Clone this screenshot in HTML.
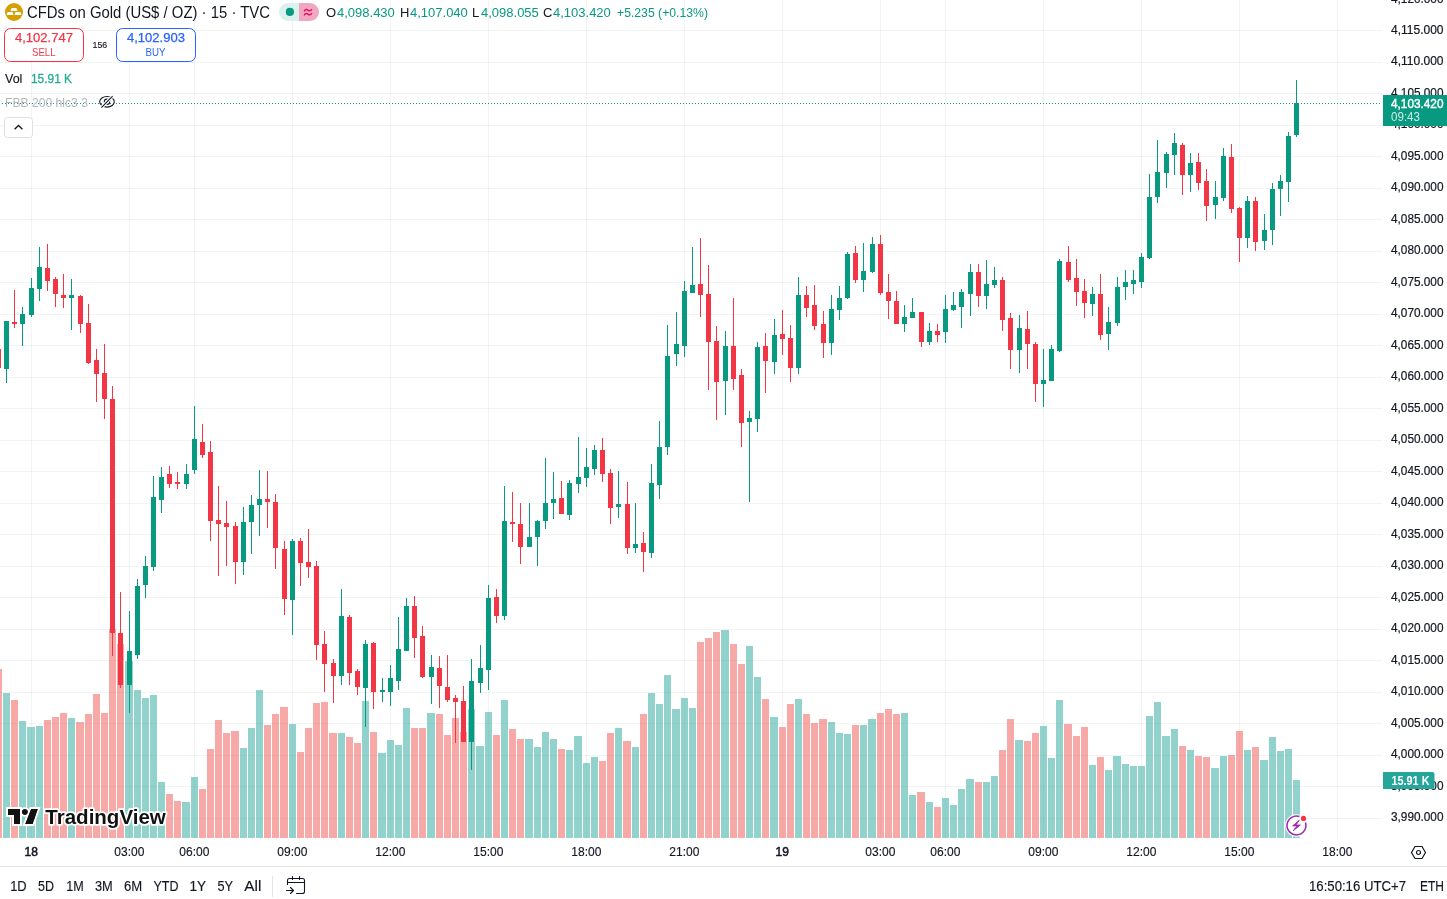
<!DOCTYPE html>
<html><head><meta charset="utf-8">
<style>
html,body{margin:0;padding:0;width:1447px;height:899px;overflow:hidden;background:#fff;}
body{position:relative;font-family:"Liberation Sans",sans-serif;color:#131722;}
svg{position:absolute;left:0;top:0;will-change:transform;}
text{font-family:"Liberation Sans",sans-serif;}
</style></head><body>
<svg width="1447" height="899" viewBox="0 0 1447 899">
<g shape-rendering="crispEdges">
<rect x="0" y="30" width="1382" height="1" fill="rgba(42,46,57,0.06)"/>
<rect x="0" y="62" width="1382" height="1" fill="rgba(42,46,57,0.06)"/>
<rect x="0" y="93" width="1382" height="1" fill="rgba(42,46,57,0.06)"/>
<rect x="0" y="125" width="1382" height="1" fill="rgba(42,46,57,0.06)"/>
<rect x="0" y="156" width="1382" height="1" fill="rgba(42,46,57,0.06)"/>
<rect x="0" y="188" width="1382" height="1" fill="rgba(42,46,57,0.06)"/>
<rect x="0" y="219" width="1382" height="1" fill="rgba(42,46,57,0.06)"/>
<rect x="0" y="251" width="1382" height="1" fill="rgba(42,46,57,0.06)"/>
<rect x="0" y="282" width="1382" height="1" fill="rgba(42,46,57,0.06)"/>
<rect x="0" y="314" width="1382" height="1" fill="rgba(42,46,57,0.06)"/>
<rect x="0" y="345" width="1382" height="1" fill="rgba(42,46,57,0.06)"/>
<rect x="0" y="377" width="1382" height="1" fill="rgba(42,46,57,0.06)"/>
<rect x="0" y="408" width="1382" height="1" fill="rgba(42,46,57,0.06)"/>
<rect x="0" y="440" width="1382" height="1" fill="rgba(42,46,57,0.06)"/>
<rect x="0" y="471" width="1382" height="1" fill="rgba(42,46,57,0.06)"/>
<rect x="0" y="503" width="1382" height="1" fill="rgba(42,46,57,0.06)"/>
<rect x="0" y="534" width="1382" height="1" fill="rgba(42,46,57,0.06)"/>
<rect x="0" y="566" width="1382" height="1" fill="rgba(42,46,57,0.06)"/>
<rect x="0" y="597" width="1382" height="1" fill="rgba(42,46,57,0.06)"/>
<rect x="0" y="629" width="1382" height="1" fill="rgba(42,46,57,0.06)"/>
<rect x="0" y="660" width="1382" height="1" fill="rgba(42,46,57,0.06)"/>
<rect x="0" y="692" width="1382" height="1" fill="rgba(42,46,57,0.06)"/>
<rect x="0" y="723" width="1382" height="1" fill="rgba(42,46,57,0.06)"/>
<rect x="0" y="755" width="1382" height="1" fill="rgba(42,46,57,0.06)"/>
<rect x="0" y="786" width="1382" height="1" fill="rgba(42,46,57,0.06)"/>
<rect x="0" y="818" width="1382" height="1" fill="rgba(42,46,57,0.06)"/>
<rect x="31" y="0" width="1" height="838" fill="rgba(42,46,57,0.06)"/>
<rect x="129" y="0" width="1" height="838" fill="rgba(42,46,57,0.06)"/>
<rect x="194" y="0" width="1" height="838" fill="rgba(42,46,57,0.06)"/>
<rect x="292" y="0" width="1" height="838" fill="rgba(42,46,57,0.06)"/>
<rect x="390" y="0" width="1" height="838" fill="rgba(42,46,57,0.06)"/>
<rect x="488" y="0" width="1" height="838" fill="rgba(42,46,57,0.06)"/>
<rect x="586" y="0" width="1" height="838" fill="rgba(42,46,57,0.06)"/>
<rect x="684" y="0" width="1" height="838" fill="rgba(42,46,57,0.06)"/>
<rect x="782" y="0" width="1" height="838" fill="rgba(42,46,57,0.06)"/>
<rect x="880" y="0" width="1" height="838" fill="rgba(42,46,57,0.06)"/>
<rect x="945" y="0" width="1" height="838" fill="rgba(42,46,57,0.06)"/>
<rect x="1043" y="0" width="1" height="838" fill="rgba(42,46,57,0.06)"/>
<rect x="1141" y="0" width="1" height="838" fill="rgba(42,46,57,0.06)"/>
<rect x="1239" y="0" width="1" height="838" fill="rgba(42,46,57,0.06)"/>
<rect x="1337" y="0" width="1" height="838" fill="rgba(42,46,57,0.06)"/>
<rect x="-5" y="669" width="7" height="169" fill="rgba(239,83,80,0.5)"/>
<rect x="3" y="693" width="7" height="145" fill="rgba(38,166,154,0.5)"/>
<rect x="11" y="700" width="7" height="138" fill="rgba(239,83,80,0.5)"/>
<rect x="19" y="721" width="7" height="117" fill="rgba(38,166,154,0.5)"/>
<rect x="27" y="727" width="8" height="111" fill="rgba(38,166,154,0.5)"/>
<rect x="36" y="726" width="7" height="112" fill="rgba(38,166,154,0.5)"/>
<rect x="44" y="720" width="7" height="118" fill="rgba(239,83,80,0.5)"/>
<rect x="52" y="717" width="7" height="121" fill="rgba(239,83,80,0.5)"/>
<rect x="60" y="713" width="7" height="125" fill="rgba(239,83,80,0.5)"/>
<rect x="68" y="718" width="7" height="120" fill="rgba(38,166,154,0.5)"/>
<rect x="76" y="722" width="8" height="116" fill="rgba(239,83,80,0.5)"/>
<rect x="85" y="714" width="7" height="124" fill="rgba(239,83,80,0.5)"/>
<rect x="93" y="694" width="7" height="144" fill="rgba(239,83,80,0.5)"/>
<rect x="101" y="713" width="7" height="125" fill="rgba(239,83,80,0.5)"/>
<rect x="109" y="629" width="7" height="209" fill="rgba(239,83,80,0.5)"/>
<rect x="117" y="644" width="7" height="194" fill="rgba(239,83,80,0.5)"/>
<rect x="125" y="661" width="8" height="177" fill="rgba(38,166,154,0.5)"/>
<rect x="134" y="690" width="7" height="148" fill="rgba(38,166,154,0.5)"/>
<rect x="142" y="698" width="7" height="140" fill="rgba(38,166,154,0.5)"/>
<rect x="150" y="695" width="7" height="143" fill="rgba(38,166,154,0.5)"/>
<rect x="158" y="782" width="7" height="56" fill="rgba(38,166,154,0.5)"/>
<rect x="166" y="794" width="7" height="44" fill="rgba(239,83,80,0.5)"/>
<rect x="174" y="801" width="7" height="37" fill="rgba(239,83,80,0.5)"/>
<rect x="182" y="802" width="8" height="36" fill="rgba(38,166,154,0.5)"/>
<rect x="191" y="777" width="7" height="61" fill="rgba(38,166,154,0.5)"/>
<rect x="199" y="789" width="7" height="49" fill="rgba(239,83,80,0.5)"/>
<rect x="207" y="749" width="7" height="89" fill="rgba(239,83,80,0.5)"/>
<rect x="215" y="720" width="7" height="118" fill="rgba(239,83,80,0.5)"/>
<rect x="223" y="733" width="7" height="105" fill="rgba(239,83,80,0.5)"/>
<rect x="231" y="731" width="8" height="107" fill="rgba(239,83,80,0.5)"/>
<rect x="240" y="748" width="7" height="90" fill="rgba(38,166,154,0.5)"/>
<rect x="248" y="728" width="7" height="110" fill="rgba(38,166,154,0.5)"/>
<rect x="256" y="690" width="7" height="148" fill="rgba(38,166,154,0.5)"/>
<rect x="264" y="725" width="7" height="113" fill="rgba(239,83,80,0.5)"/>
<rect x="272" y="714" width="7" height="124" fill="rgba(239,83,80,0.5)"/>
<rect x="280" y="707" width="8" height="131" fill="rgba(239,83,80,0.5)"/>
<rect x="289" y="724" width="7" height="114" fill="rgba(38,166,154,0.5)"/>
<rect x="297" y="752" width="7" height="86" fill="rgba(239,83,80,0.5)"/>
<rect x="305" y="728" width="7" height="110" fill="rgba(239,83,80,0.5)"/>
<rect x="313" y="703" width="7" height="135" fill="rgba(239,83,80,0.5)"/>
<rect x="321" y="702" width="7" height="136" fill="rgba(239,83,80,0.5)"/>
<rect x="329" y="733" width="8" height="105" fill="rgba(239,83,80,0.5)"/>
<rect x="338" y="733" width="7" height="105" fill="rgba(38,166,154,0.5)"/>
<rect x="346" y="737" width="7" height="101" fill="rgba(239,83,80,0.5)"/>
<rect x="354" y="743" width="7" height="95" fill="rgba(239,83,80,0.5)"/>
<rect x="362" y="701" width="7" height="137" fill="rgba(38,166,154,0.5)"/>
<rect x="370" y="732" width="7" height="106" fill="rgba(239,83,80,0.5)"/>
<rect x="378" y="753" width="8" height="85" fill="rgba(38,166,154,0.5)"/>
<rect x="387" y="740" width="7" height="98" fill="rgba(38,166,154,0.5)"/>
<rect x="395" y="745" width="7" height="93" fill="rgba(38,166,154,0.5)"/>
<rect x="403" y="708" width="7" height="130" fill="rgba(38,166,154,0.5)"/>
<rect x="411" y="728" width="7" height="110" fill="rgba(239,83,80,0.5)"/>
<rect x="419" y="728" width="7" height="110" fill="rgba(239,83,80,0.5)"/>
<rect x="427" y="713" width="8" height="125" fill="rgba(38,166,154,0.5)"/>
<rect x="436" y="714" width="7" height="124" fill="rgba(239,83,80,0.5)"/>
<rect x="444" y="735" width="7" height="103" fill="rgba(239,83,80,0.5)"/>
<rect x="452" y="718" width="7" height="120" fill="rgba(239,83,80,0.5)"/>
<rect x="460" y="732" width="7" height="106" fill="rgba(239,83,80,0.5)"/>
<rect x="468" y="709" width="7" height="129" fill="rgba(38,166,154,0.5)"/>
<rect x="476" y="746" width="8" height="92" fill="rgba(38,166,154,0.5)"/>
<rect x="485" y="712" width="7" height="126" fill="rgba(38,166,154,0.5)"/>
<rect x="493" y="735" width="7" height="103" fill="rgba(239,83,80,0.5)"/>
<rect x="501" y="700" width="7" height="138" fill="rgba(38,166,154,0.5)"/>
<rect x="509" y="729" width="7" height="109" fill="rgba(239,83,80,0.5)"/>
<rect x="517" y="739" width="7" height="99" fill="rgba(239,83,80,0.5)"/>
<rect x="525" y="739" width="8" height="99" fill="rgba(38,166,154,0.5)"/>
<rect x="534" y="747" width="7" height="91" fill="rgba(38,166,154,0.5)"/>
<rect x="542" y="732" width="7" height="106" fill="rgba(38,166,154,0.5)"/>
<rect x="550" y="739" width="7" height="99" fill="rgba(38,166,154,0.5)"/>
<rect x="558" y="749" width="7" height="89" fill="rgba(239,83,80,0.5)"/>
<rect x="566" y="750" width="7" height="88" fill="rgba(38,166,154,0.5)"/>
<rect x="574" y="736" width="8" height="102" fill="rgba(38,166,154,0.5)"/>
<rect x="583" y="763" width="7" height="75" fill="rgba(38,166,154,0.5)"/>
<rect x="591" y="757" width="7" height="81" fill="rgba(38,166,154,0.5)"/>
<rect x="599" y="761" width="7" height="77" fill="rgba(239,83,80,0.5)"/>
<rect x="607" y="733" width="7" height="105" fill="rgba(239,83,80,0.5)"/>
<rect x="615" y="728" width="7" height="110" fill="rgba(38,166,154,0.5)"/>
<rect x="623" y="741" width="8" height="97" fill="rgba(239,83,80,0.5)"/>
<rect x="632" y="747" width="7" height="91" fill="rgba(38,166,154,0.5)"/>
<rect x="640" y="714" width="7" height="124" fill="rgba(239,83,80,0.5)"/>
<rect x="648" y="693" width="7" height="145" fill="rgba(38,166,154,0.5)"/>
<rect x="656" y="704" width="7" height="134" fill="rgba(38,166,154,0.5)"/>
<rect x="664" y="675" width="7" height="163" fill="rgba(38,166,154,0.5)"/>
<rect x="672" y="709" width="8" height="129" fill="rgba(38,166,154,0.5)"/>
<rect x="681" y="698" width="7" height="140" fill="rgba(38,166,154,0.5)"/>
<rect x="689" y="708" width="7" height="130" fill="rgba(38,166,154,0.5)"/>
<rect x="697" y="642" width="7" height="196" fill="rgba(239,83,80,0.5)"/>
<rect x="705" y="638" width="7" height="200" fill="rgba(239,83,80,0.5)"/>
<rect x="713" y="632" width="7" height="206" fill="rgba(239,83,80,0.5)"/>
<rect x="721" y="630" width="8" height="208" fill="rgba(38,166,154,0.5)"/>
<rect x="730" y="644" width="7" height="194" fill="rgba(239,83,80,0.5)"/>
<rect x="738" y="664" width="7" height="174" fill="rgba(239,83,80,0.5)"/>
<rect x="746" y="646" width="7" height="192" fill="rgba(38,166,154,0.5)"/>
<rect x="754" y="677" width="7" height="161" fill="rgba(38,166,154,0.5)"/>
<rect x="762" y="699" width="7" height="139" fill="rgba(239,83,80,0.5)"/>
<rect x="770" y="717" width="8" height="121" fill="rgba(38,166,154,0.5)"/>
<rect x="779" y="727" width="7" height="111" fill="rgba(239,83,80,0.5)"/>
<rect x="787" y="704" width="7" height="134" fill="rgba(239,83,80,0.5)"/>
<rect x="795" y="699" width="7" height="139" fill="rgba(38,166,154,0.5)"/>
<rect x="803" y="714" width="7" height="124" fill="rgba(239,83,80,0.5)"/>
<rect x="811" y="723" width="7" height="115" fill="rgba(239,83,80,0.5)"/>
<rect x="819" y="719" width="8" height="119" fill="rgba(239,83,80,0.5)"/>
<rect x="828" y="722" width="7" height="116" fill="rgba(38,166,154,0.5)"/>
<rect x="836" y="733" width="7" height="105" fill="rgba(38,166,154,0.5)"/>
<rect x="844" y="734" width="7" height="104" fill="rgba(38,166,154,0.5)"/>
<rect x="852" y="725" width="7" height="113" fill="rgba(239,83,80,0.5)"/>
<rect x="860" y="725" width="7" height="113" fill="rgba(38,166,154,0.5)"/>
<rect x="868" y="719" width="8" height="119" fill="rgba(38,166,154,0.5)"/>
<rect x="877" y="713" width="7" height="125" fill="rgba(239,83,80,0.5)"/>
<rect x="885" y="709" width="7" height="129" fill="rgba(239,83,80,0.5)"/>
<rect x="893" y="714" width="7" height="124" fill="rgba(239,83,80,0.5)"/>
<rect x="901" y="713" width="7" height="125" fill="rgba(38,166,154,0.5)"/>
<rect x="909" y="795" width="7" height="43" fill="rgba(38,166,154,0.5)"/>
<rect x="917" y="792" width="8" height="46" fill="rgba(239,83,80,0.5)"/>
<rect x="926" y="802" width="7" height="36" fill="rgba(38,166,154,0.5)"/>
<rect x="934" y="807" width="7" height="31" fill="rgba(239,83,80,0.5)"/>
<rect x="942" y="798" width="7" height="40" fill="rgba(38,166,154,0.5)"/>
<rect x="950" y="805" width="7" height="33" fill="rgba(38,166,154,0.5)"/>
<rect x="958" y="789" width="7" height="49" fill="rgba(38,166,154,0.5)"/>
<rect x="966" y="779" width="8" height="59" fill="rgba(38,166,154,0.5)"/>
<rect x="975" y="782" width="7" height="56" fill="rgba(239,83,80,0.5)"/>
<rect x="983" y="782" width="7" height="56" fill="rgba(38,166,154,0.5)"/>
<rect x="991" y="776" width="7" height="62" fill="rgba(38,166,154,0.5)"/>
<rect x="999" y="750" width="7" height="88" fill="rgba(239,83,80,0.5)"/>
<rect x="1007" y="719" width="7" height="119" fill="rgba(239,83,80,0.5)"/>
<rect x="1015" y="740" width="8" height="98" fill="rgba(38,166,154,0.5)"/>
<rect x="1024" y="741" width="7" height="97" fill="rgba(239,83,80,0.5)"/>
<rect x="1032" y="733" width="7" height="105" fill="rgba(239,83,80,0.5)"/>
<rect x="1040" y="726" width="7" height="112" fill="rgba(38,166,154,0.5)"/>
<rect x="1048" y="758" width="7" height="80" fill="rgba(38,166,154,0.5)"/>
<rect x="1056" y="700" width="7" height="138" fill="rgba(38,166,154,0.5)"/>
<rect x="1064" y="724" width="8" height="114" fill="rgba(239,83,80,0.5)"/>
<rect x="1073" y="736" width="7" height="102" fill="rgba(239,83,80,0.5)"/>
<rect x="1081" y="727" width="7" height="111" fill="rgba(239,83,80,0.5)"/>
<rect x="1089" y="765" width="7" height="73" fill="rgba(38,166,154,0.5)"/>
<rect x="1097" y="757" width="7" height="81" fill="rgba(239,83,80,0.5)"/>
<rect x="1105" y="770" width="7" height="68" fill="rgba(38,166,154,0.5)"/>
<rect x="1113" y="756" width="8" height="82" fill="rgba(38,166,154,0.5)"/>
<rect x="1122" y="764" width="7" height="74" fill="rgba(38,166,154,0.5)"/>
<rect x="1130" y="766" width="7" height="72" fill="rgba(38,166,154,0.5)"/>
<rect x="1138" y="766" width="7" height="72" fill="rgba(38,166,154,0.5)"/>
<rect x="1146" y="716" width="7" height="122" fill="rgba(38,166,154,0.5)"/>
<rect x="1154" y="702" width="7" height="136" fill="rgba(38,166,154,0.5)"/>
<rect x="1162" y="736" width="8" height="102" fill="rgba(38,166,154,0.5)"/>
<rect x="1171" y="729" width="7" height="109" fill="rgba(38,166,154,0.5)"/>
<rect x="1179" y="746" width="7" height="92" fill="rgba(239,83,80,0.5)"/>
<rect x="1187" y="750" width="7" height="88" fill="rgba(38,166,154,0.5)"/>
<rect x="1195" y="756" width="7" height="82" fill="rgba(239,83,80,0.5)"/>
<rect x="1203" y="757" width="7" height="81" fill="rgba(239,83,80,0.5)"/>
<rect x="1211" y="768" width="8" height="70" fill="rgba(38,166,154,0.5)"/>
<rect x="1220" y="756" width="7" height="82" fill="rgba(38,166,154,0.5)"/>
<rect x="1228" y="755" width="7" height="83" fill="rgba(239,83,80,0.5)"/>
<rect x="1236" y="731" width="7" height="107" fill="rgba(239,83,80,0.5)"/>
<rect x="1244" y="750" width="7" height="88" fill="rgba(38,166,154,0.5)"/>
<rect x="1252" y="747" width="7" height="91" fill="rgba(239,83,80,0.5)"/>
<rect x="1260" y="760" width="8" height="78" fill="rgba(38,166,154,0.5)"/>
<rect x="1269" y="737" width="7" height="101" fill="rgba(38,166,154,0.5)"/>
<rect x="1277" y="751" width="7" height="87" fill="rgba(38,166,154,0.5)"/>
<rect x="1285" y="749" width="7" height="89" fill="rgba(38,166,154,0.5)"/>
<rect x="1293" y="780" width="7" height="58" fill="rgba(38,166,154,0.5)"/>
<rect x="-2" y="349" width="1" height="19" fill="#f23645"/><rect x="-4" y="349" width="5" height="19" fill="#f23645"/>
<rect x="6" y="321" width="1" height="62" fill="#089981"/><rect x="4" y="321" width="5" height="48" fill="#089981"/>
<rect x="14" y="290" width="1" height="38" fill="#f23645"/><rect x="12" y="322" width="5" height="2" fill="#f23645"/>
<rect x="22" y="307" width="1" height="39" fill="#089981"/><rect x="20" y="314" width="5" height="10" fill="#089981"/>
<rect x="31" y="278" width="1" height="39" fill="#089981"/><rect x="29" y="288" width="5" height="27" fill="#089981"/>
<rect x="39" y="247" width="1" height="54" fill="#089981"/><rect x="37" y="267" width="5" height="22" fill="#089981"/>
<rect x="47" y="244" width="1" height="47" fill="#f23645"/><rect x="45" y="268" width="5" height="13" fill="#f23645"/>
<rect x="55" y="277" width="1" height="30" fill="#f23645"/><rect x="53" y="279" width="5" height="15" fill="#f23645"/>
<rect x="63" y="274" width="1" height="34" fill="#f23645"/><rect x="61" y="295" width="5" height="3" fill="#f23645"/>
<rect x="71" y="279" width="1" height="51" fill="#089981"/><rect x="69" y="295" width="5" height="3" fill="#089981"/>
<rect x="80" y="295" width="1" height="38" fill="#f23645"/><rect x="78" y="296" width="5" height="28" fill="#f23645"/>
<rect x="88" y="304" width="1" height="60" fill="#f23645"/><rect x="86" y="323" width="5" height="40" fill="#f23645"/>
<rect x="96" y="349" width="1" height="53" fill="#f23645"/><rect x="94" y="360" width="5" height="14" fill="#f23645"/>
<rect x="104" y="344" width="1" height="75" fill="#f23645"/><rect x="102" y="373" width="5" height="26" fill="#f23645"/>
<rect x="112" y="386" width="1" height="270" fill="#f23645"/><rect x="110" y="399" width="5" height="234" fill="#f23645"/>
<rect x="120" y="592" width="1" height="96" fill="#f23645"/><rect x="118" y="633" width="5" height="52" fill="#f23645"/>
<rect x="129" y="611" width="1" height="102" fill="#089981"/><rect x="127" y="651" width="5" height="34" fill="#089981"/>
<rect x="137" y="579" width="1" height="80" fill="#089981"/><rect x="135" y="586" width="5" height="69" fill="#089981"/>
<rect x="145" y="556" width="1" height="42" fill="#089981"/><rect x="143" y="566" width="5" height="19" fill="#089981"/>
<rect x="153" y="476" width="1" height="95" fill="#089981"/><rect x="151" y="497" width="5" height="70" fill="#089981"/>
<rect x="161" y="467" width="1" height="46" fill="#089981"/><rect x="159" y="477" width="5" height="23" fill="#089981"/>
<rect x="169" y="466" width="1" height="22" fill="#f23645"/><rect x="167" y="474" width="5" height="10" fill="#f23645"/>
<rect x="177" y="472" width="1" height="17" fill="#f23645"/><rect x="175" y="482" width="5" height="2" fill="#f23645"/>
<rect x="186" y="464" width="1" height="25" fill="#089981"/><rect x="184" y="474" width="5" height="10" fill="#089981"/>
<rect x="194" y="406" width="1" height="68" fill="#089981"/><rect x="192" y="439" width="5" height="31" fill="#089981"/>
<rect x="202" y="424" width="1" height="34" fill="#f23645"/><rect x="200" y="442" width="5" height="13" fill="#f23645"/>
<rect x="210" y="441" width="1" height="100" fill="#f23645"/><rect x="208" y="452" width="5" height="69" fill="#f23645"/>
<rect x="218" y="486" width="1" height="90" fill="#f23645"/><rect x="216" y="520" width="5" height="4" fill="#f23645"/>
<rect x="226" y="501" width="1" height="65" fill="#f23645"/><rect x="224" y="523" width="5" height="4" fill="#f23645"/>
<rect x="235" y="522" width="1" height="62" fill="#f23645"/><rect x="233" y="526" width="5" height="36" fill="#f23645"/>
<rect x="243" y="507" width="1" height="68" fill="#089981"/><rect x="241" y="522" width="5" height="40" fill="#089981"/>
<rect x="251" y="495" width="1" height="59" fill="#089981"/><rect x="249" y="505" width="5" height="17" fill="#089981"/>
<rect x="259" y="470" width="1" height="66" fill="#089981"/><rect x="257" y="499" width="5" height="6" fill="#089981"/>
<rect x="267" y="471" width="1" height="57" fill="#f23645"/><rect x="265" y="499" width="5" height="3" fill="#f23645"/>
<rect x="275" y="494" width="1" height="75" fill="#f23645"/><rect x="273" y="502" width="5" height="46" fill="#f23645"/>
<rect x="284" y="541" width="1" height="74" fill="#f23645"/><rect x="282" y="549" width="5" height="50" fill="#f23645"/>
<rect x="292" y="539" width="1" height="96" fill="#089981"/><rect x="290" y="541" width="5" height="59" fill="#089981"/>
<rect x="300" y="538" width="1" height="48" fill="#f23645"/><rect x="298" y="541" width="5" height="22" fill="#f23645"/>
<rect x="308" y="529" width="1" height="49" fill="#f23645"/><rect x="306" y="562" width="5" height="5" fill="#f23645"/>
<rect x="316" y="561" width="1" height="99" fill="#f23645"/><rect x="314" y="566" width="5" height="79" fill="#f23645"/>
<rect x="324" y="631" width="1" height="61" fill="#f23645"/><rect x="322" y="644" width="5" height="20" fill="#f23645"/>
<rect x="333" y="659" width="1" height="44" fill="#f23645"/><rect x="331" y="663" width="5" height="13" fill="#f23645"/>
<rect x="341" y="589" width="1" height="96" fill="#089981"/><rect x="339" y="616" width="5" height="60" fill="#089981"/>
<rect x="349" y="615" width="1" height="70" fill="#f23645"/><rect x="347" y="617" width="5" height="56" fill="#f23645"/>
<rect x="357" y="669" width="1" height="26" fill="#f23645"/><rect x="355" y="671" width="5" height="16" fill="#f23645"/>
<rect x="365" y="640" width="1" height="87" fill="#089981"/><rect x="363" y="644" width="5" height="44" fill="#089981"/>
<rect x="373" y="642" width="1" height="67" fill="#f23645"/><rect x="371" y="643" width="5" height="49" fill="#f23645"/>
<rect x="382" y="678" width="1" height="24" fill="#089981"/><rect x="380" y="690" width="5" height="2" fill="#089981"/>
<rect x="390" y="665" width="1" height="41" fill="#089981"/><rect x="388" y="678" width="5" height="14" fill="#089981"/>
<rect x="398" y="617" width="1" height="73" fill="#089981"/><rect x="396" y="649" width="5" height="32" fill="#089981"/>
<rect x="406" y="598" width="1" height="53" fill="#089981"/><rect x="404" y="606" width="5" height="45" fill="#089981"/>
<rect x="414" y="596" width="1" height="62" fill="#f23645"/><rect x="412" y="606" width="5" height="32" fill="#f23645"/>
<rect x="422" y="626" width="1" height="52" fill="#f23645"/><rect x="420" y="636" width="5" height="41" fill="#f23645"/>
<rect x="431" y="655" width="1" height="49" fill="#089981"/><rect x="429" y="667" width="5" height="10" fill="#089981"/>
<rect x="439" y="656" width="1" height="52" fill="#f23645"/><rect x="437" y="668" width="5" height="18" fill="#f23645"/>
<rect x="447" y="655" width="1" height="47" fill="#f23645"/><rect x="445" y="687" width="5" height="13" fill="#f23645"/>
<rect x="455" y="695" width="1" height="48" fill="#f23645"/><rect x="453" y="698" width="5" height="4" fill="#f23645"/>
<rect x="463" y="686" width="1" height="56" fill="#f23645"/><rect x="461" y="701" width="5" height="41" fill="#f23645"/>
<rect x="471" y="659" width="1" height="111" fill="#089981"/><rect x="469" y="681" width="5" height="61" fill="#089981"/>
<rect x="480" y="645" width="1" height="48" fill="#089981"/><rect x="478" y="668" width="5" height="15" fill="#089981"/>
<rect x="488" y="585" width="1" height="105" fill="#089981"/><rect x="486" y="598" width="5" height="72" fill="#089981"/>
<rect x="496" y="589" width="1" height="34" fill="#f23645"/><rect x="494" y="597" width="5" height="19" fill="#f23645"/>
<rect x="504" y="486" width="1" height="134" fill="#089981"/><rect x="502" y="521" width="5" height="95" fill="#089981"/>
<rect x="512" y="492" width="1" height="50" fill="#f23645"/><rect x="510" y="522" width="5" height="2" fill="#f23645"/>
<rect x="520" y="503" width="1" height="61" fill="#f23645"/><rect x="518" y="524" width="5" height="23" fill="#f23645"/>
<rect x="529" y="503" width="1" height="44" fill="#089981"/><rect x="527" y="537" width="5" height="10" fill="#089981"/>
<rect x="537" y="520" width="1" height="46" fill="#089981"/><rect x="535" y="521" width="5" height="16" fill="#089981"/>
<rect x="545" y="458" width="1" height="71" fill="#089981"/><rect x="543" y="503" width="5" height="18" fill="#089981"/>
<rect x="553" y="472" width="1" height="47" fill="#089981"/><rect x="551" y="499" width="5" height="4" fill="#089981"/>
<rect x="561" y="481" width="1" height="33" fill="#f23645"/><rect x="559" y="498" width="5" height="16" fill="#f23645"/>
<rect x="569" y="480" width="1" height="40" fill="#089981"/><rect x="567" y="483" width="5" height="32" fill="#089981"/>
<rect x="578" y="437" width="1" height="56" fill="#089981"/><rect x="576" y="477" width="5" height="7" fill="#089981"/>
<rect x="586" y="448" width="1" height="39" fill="#089981"/><rect x="584" y="467" width="5" height="11" fill="#089981"/>
<rect x="594" y="445" width="1" height="30" fill="#089981"/><rect x="592" y="450" width="5" height="19" fill="#089981"/>
<rect x="602" y="438" width="1" height="44" fill="#f23645"/><rect x="600" y="450" width="5" height="24" fill="#f23645"/>
<rect x="610" y="469" width="1" height="55" fill="#f23645"/><rect x="608" y="473" width="5" height="35" fill="#f23645"/>
<rect x="618" y="471" width="1" height="47" fill="#089981"/><rect x="616" y="504" width="5" height="3" fill="#089981"/>
<rect x="627" y="482" width="1" height="72" fill="#f23645"/><rect x="625" y="504" width="5" height="44" fill="#f23645"/>
<rect x="635" y="503" width="1" height="50" fill="#089981"/><rect x="633" y="544" width="5" height="4" fill="#089981"/>
<rect x="643" y="532" width="1" height="40" fill="#f23645"/><rect x="641" y="543" width="5" height="9" fill="#f23645"/>
<rect x="651" y="464" width="1" height="94" fill="#089981"/><rect x="649" y="483" width="5" height="70" fill="#089981"/>
<rect x="659" y="421" width="1" height="78" fill="#089981"/><rect x="657" y="447" width="5" height="38" fill="#089981"/>
<rect x="667" y="325" width="1" height="130" fill="#089981"/><rect x="665" y="356" width="5" height="91" fill="#089981"/>
<rect x="676" y="312" width="1" height="54" fill="#089981"/><rect x="674" y="344" width="5" height="10" fill="#089981"/>
<rect x="684" y="281" width="1" height="76" fill="#089981"/><rect x="682" y="291" width="5" height="55" fill="#089981"/>
<rect x="692" y="247" width="1" height="46" fill="#089981"/><rect x="690" y="285" width="5" height="8" fill="#089981"/>
<rect x="700" y="238" width="1" height="79" fill="#f23645"/><rect x="698" y="284" width="5" height="11" fill="#f23645"/>
<rect x="708" y="265" width="1" height="125" fill="#f23645"/><rect x="706" y="294" width="5" height="48" fill="#f23645"/>
<rect x="716" y="326" width="1" height="94" fill="#f23645"/><rect x="714" y="341" width="5" height="41" fill="#f23645"/>
<rect x="725" y="331" width="1" height="84" fill="#089981"/><rect x="723" y="346" width="5" height="35" fill="#089981"/>
<rect x="733" y="298" width="1" height="92" fill="#f23645"/><rect x="731" y="346" width="5" height="33" fill="#f23645"/>
<rect x="741" y="369" width="1" height="78" fill="#f23645"/><rect x="739" y="375" width="5" height="48" fill="#f23645"/>
<rect x="749" y="411" width="1" height="91" fill="#089981"/><rect x="747" y="418" width="5" height="4" fill="#089981"/>
<rect x="757" y="342" width="1" height="90" fill="#089981"/><rect x="755" y="347" width="5" height="72" fill="#089981"/>
<rect x="765" y="333" width="1" height="60" fill="#f23645"/><rect x="763" y="346" width="5" height="15" fill="#f23645"/>
<rect x="774" y="319" width="1" height="55" fill="#089981"/><rect x="772" y="335" width="5" height="27" fill="#089981"/>
<rect x="782" y="310" width="1" height="45" fill="#f23645"/><rect x="780" y="334" width="5" height="5" fill="#f23645"/>
<rect x="790" y="325" width="1" height="57" fill="#f23645"/><rect x="788" y="338" width="5" height="30" fill="#f23645"/>
<rect x="798" y="277" width="1" height="97" fill="#089981"/><rect x="796" y="295" width="5" height="73" fill="#089981"/>
<rect x="806" y="286" width="1" height="31" fill="#f23645"/><rect x="804" y="295" width="5" height="13" fill="#f23645"/>
<rect x="814" y="285" width="1" height="45" fill="#f23645"/><rect x="812" y="305" width="5" height="21" fill="#f23645"/>
<rect x="823" y="311" width="1" height="47" fill="#f23645"/><rect x="821" y="324" width="5" height="19" fill="#f23645"/>
<rect x="831" y="295" width="1" height="60" fill="#089981"/><rect x="829" y="309" width="5" height="34" fill="#089981"/>
<rect x="839" y="286" width="1" height="34" fill="#089981"/><rect x="837" y="298" width="5" height="12" fill="#089981"/>
<rect x="847" y="252" width="1" height="47" fill="#089981"/><rect x="845" y="254" width="5" height="44" fill="#089981"/>
<rect x="855" y="246" width="1" height="37" fill="#f23645"/><rect x="853" y="253" width="5" height="27" fill="#f23645"/>
<rect x="863" y="243" width="1" height="49" fill="#089981"/><rect x="861" y="271" width="5" height="9" fill="#089981"/>
<rect x="872" y="237" width="1" height="36" fill="#089981"/><rect x="870" y="244" width="5" height="28" fill="#089981"/>
<rect x="880" y="235" width="1" height="60" fill="#f23645"/><rect x="878" y="244" width="5" height="49" fill="#f23645"/>
<rect x="888" y="274" width="1" height="45" fill="#f23645"/><rect x="886" y="292" width="5" height="9" fill="#f23645"/>
<rect x="896" y="291" width="1" height="33" fill="#f23645"/><rect x="894" y="301" width="5" height="23" fill="#f23645"/>
<rect x="904" y="305" width="1" height="27" fill="#089981"/><rect x="902" y="317" width="5" height="7" fill="#089981"/>
<rect x="912" y="298" width="1" height="20" fill="#089981"/><rect x="910" y="312" width="5" height="6" fill="#089981"/>
<rect x="921" y="312" width="1" height="35" fill="#f23645"/><rect x="919" y="312" width="5" height="30" fill="#f23645"/>
<rect x="929" y="323" width="1" height="22" fill="#089981"/><rect x="927" y="331" width="5" height="11" fill="#089981"/>
<rect x="937" y="324" width="1" height="18" fill="#f23645"/><rect x="935" y="331" width="5" height="4" fill="#f23645"/>
<rect x="945" y="295" width="1" height="48" fill="#089981"/><rect x="943" y="309" width="5" height="23" fill="#089981"/>
<rect x="953" y="292" width="1" height="19" fill="#089981"/><rect x="951" y="305" width="5" height="5" fill="#089981"/>
<rect x="961" y="289" width="1" height="39" fill="#089981"/><rect x="959" y="292" width="5" height="15" fill="#089981"/>
<rect x="970" y="264" width="1" height="52" fill="#089981"/><rect x="968" y="272" width="5" height="22" fill="#089981"/>
<rect x="978" y="264" width="1" height="43" fill="#f23645"/><rect x="976" y="272" width="5" height="24" fill="#f23645"/>
<rect x="986" y="260" width="1" height="49" fill="#089981"/><rect x="984" y="284" width="5" height="12" fill="#089981"/>
<rect x="994" y="267" width="1" height="21" fill="#089981"/><rect x="992" y="280" width="5" height="5" fill="#089981"/>
<rect x="1002" y="277" width="1" height="54" fill="#f23645"/><rect x="1000" y="280" width="5" height="40" fill="#f23645"/>
<rect x="1010" y="313" width="1" height="56" fill="#f23645"/><rect x="1008" y="318" width="5" height="32" fill="#f23645"/>
<rect x="1019" y="315" width="1" height="58" fill="#089981"/><rect x="1017" y="328" width="5" height="22" fill="#089981"/>
<rect x="1027" y="311" width="1" height="58" fill="#f23645"/><rect x="1025" y="329" width="5" height="15" fill="#f23645"/>
<rect x="1035" y="342" width="1" height="60" fill="#f23645"/><rect x="1033" y="344" width="5" height="40" fill="#f23645"/>
<rect x="1043" y="349" width="1" height="58" fill="#089981"/><rect x="1041" y="380" width="5" height="4" fill="#089981"/>
<rect x="1051" y="345" width="1" height="36" fill="#089981"/><rect x="1049" y="349" width="5" height="32" fill="#089981"/>
<rect x="1059" y="259" width="1" height="93" fill="#089981"/><rect x="1057" y="261" width="5" height="90" fill="#089981"/>
<rect x="1068" y="246" width="1" height="36" fill="#f23645"/><rect x="1066" y="262" width="5" height="18" fill="#f23645"/>
<rect x="1076" y="259" width="1" height="47" fill="#f23645"/><rect x="1074" y="278" width="5" height="14" fill="#f23645"/>
<rect x="1084" y="279" width="1" height="39" fill="#f23645"/><rect x="1082" y="291" width="5" height="12" fill="#f23645"/>
<rect x="1092" y="287" width="1" height="29" fill="#089981"/><rect x="1090" y="294" width="5" height="10" fill="#089981"/>
<rect x="1100" y="274" width="1" height="66" fill="#f23645"/><rect x="1098" y="294" width="5" height="41" fill="#f23645"/>
<rect x="1108" y="307" width="1" height="43" fill="#089981"/><rect x="1106" y="322" width="5" height="12" fill="#089981"/>
<rect x="1117" y="277" width="1" height="49" fill="#089981"/><rect x="1115" y="287" width="5" height="36" fill="#089981"/>
<rect x="1125" y="270" width="1" height="30" fill="#089981"/><rect x="1123" y="282" width="5" height="5" fill="#089981"/>
<rect x="1133" y="270" width="1" height="24" fill="#089981"/><rect x="1131" y="280" width="5" height="4" fill="#089981"/>
<rect x="1141" y="253" width="1" height="35" fill="#089981"/><rect x="1139" y="257" width="5" height="25" fill="#089981"/>
<rect x="1149" y="174" width="1" height="85" fill="#089981"/><rect x="1147" y="197" width="5" height="61" fill="#089981"/>
<rect x="1157" y="140" width="1" height="63" fill="#089981"/><rect x="1155" y="172" width="5" height="25" fill="#089981"/>
<rect x="1166" y="152" width="1" height="36" fill="#089981"/><rect x="1164" y="154" width="5" height="19" fill="#089981"/>
<rect x="1174" y="133" width="1" height="42" fill="#089981"/><rect x="1172" y="143" width="5" height="12" fill="#089981"/>
<rect x="1182" y="143" width="1" height="52" fill="#f23645"/><rect x="1180" y="145" width="5" height="30" fill="#f23645"/>
<rect x="1190" y="153" width="1" height="39" fill="#089981"/><rect x="1188" y="163" width="5" height="12" fill="#089981"/>
<rect x="1198" y="153" width="1" height="37" fill="#f23645"/><rect x="1196" y="162" width="5" height="21" fill="#f23645"/>
<rect x="1206" y="169" width="1" height="52" fill="#f23645"/><rect x="1204" y="181" width="5" height="25" fill="#f23645"/>
<rect x="1215" y="181" width="1" height="38" fill="#089981"/><rect x="1213" y="197" width="5" height="8" fill="#089981"/>
<rect x="1223" y="148" width="1" height="53" fill="#089981"/><rect x="1221" y="156" width="5" height="42" fill="#089981"/>
<rect x="1231" y="144" width="1" height="69" fill="#f23645"/><rect x="1229" y="157" width="5" height="52" fill="#f23645"/>
<rect x="1239" y="207" width="1" height="55" fill="#f23645"/><rect x="1237" y="208" width="5" height="30" fill="#f23645"/>
<rect x="1247" y="196" width="1" height="52" fill="#089981"/><rect x="1245" y="201" width="5" height="37" fill="#089981"/>
<rect x="1255" y="197" width="1" height="54" fill="#f23645"/><rect x="1253" y="201" width="5" height="41" fill="#f23645"/>
<rect x="1264" y="214" width="1" height="36" fill="#089981"/><rect x="1262" y="230" width="5" height="11" fill="#089981"/>
<rect x="1272" y="183" width="1" height="62" fill="#089981"/><rect x="1270" y="189" width="5" height="41" fill="#089981"/>
<rect x="1280" y="175" width="1" height="41" fill="#089981"/><rect x="1278" y="181" width="5" height="8" fill="#089981"/>
<rect x="1288" y="132" width="1" height="70" fill="#089981"/><rect x="1286" y="136" width="5" height="46" fill="#089981"/>
<rect x="1296" y="80" width="1" height="57" fill="#089981"/><rect x="1294" y="103" width="5" height="32" fill="#089981"/>
<line x1="0" y1="103.5" x2="1382" y2="103.5" stroke="#089981" stroke-width="1" stroke-dasharray="1 2" stroke-dashoffset="1"/>
<!-- time axis separator -->
<rect x="0" y="866" width="1447" height="1" fill="#e3e3e3"/>
</g>
<!-- price axis labels -->
<g font-size="12" fill="#131722" stroke="#131722" stroke-width="0.2">
<text x="1391" y="2.8" textLength="52.5" lengthAdjust="spacingAndGlyphs">4,120.000</text>
<text x="1391" y="33.8" textLength="52.5" lengthAdjust="spacingAndGlyphs">4,115.000</text>
<text x="1391" y="65.3" textLength="52.5" lengthAdjust="spacingAndGlyphs">4,110.000</text>
<text x="1391" y="96.8" textLength="52.5" lengthAdjust="spacingAndGlyphs">4,105.000</text>
<text x="1391" y="128.3" textLength="52.5" lengthAdjust="spacingAndGlyphs">4,100.000</text>
<text x="1391" y="159.8" textLength="52.5" lengthAdjust="spacingAndGlyphs">4,095.000</text>
<text x="1391" y="191.3" textLength="52.5" lengthAdjust="spacingAndGlyphs">4,090.000</text>
<text x="1391" y="222.8" textLength="52.5" lengthAdjust="spacingAndGlyphs">4,085.000</text>
<text x="1391" y="254.3" textLength="52.5" lengthAdjust="spacingAndGlyphs">4,080.000</text>
<text x="1391" y="285.8" textLength="52.5" lengthAdjust="spacingAndGlyphs">4,075.000</text>
<text x="1391" y="317.3" textLength="52.5" lengthAdjust="spacingAndGlyphs">4,070.000</text>
<text x="1391" y="348.8" textLength="52.5" lengthAdjust="spacingAndGlyphs">4,065.000</text>
<text x="1391" y="380.3" textLength="52.5" lengthAdjust="spacingAndGlyphs">4,060.000</text>
<text x="1391" y="411.8" textLength="52.5" lengthAdjust="spacingAndGlyphs">4,055.000</text>
<text x="1391" y="443.3" textLength="52.5" lengthAdjust="spacingAndGlyphs">4,050.000</text>
<text x="1391" y="474.8" textLength="52.5" lengthAdjust="spacingAndGlyphs">4,045.000</text>
<text x="1391" y="506.3" textLength="52.5" lengthAdjust="spacingAndGlyphs">4,040.000</text>
<text x="1391" y="537.8" textLength="52.5" lengthAdjust="spacingAndGlyphs">4,035.000</text>
<text x="1391" y="569.3" textLength="52.5" lengthAdjust="spacingAndGlyphs">4,030.000</text>
<text x="1391" y="600.8" textLength="52.5" lengthAdjust="spacingAndGlyphs">4,025.000</text>
<text x="1391" y="632.3" textLength="52.5" lengthAdjust="spacingAndGlyphs">4,020.000</text>
<text x="1391" y="663.8" textLength="52.5" lengthAdjust="spacingAndGlyphs">4,015.000</text>
<text x="1391" y="695.3" textLength="52.5" lengthAdjust="spacingAndGlyphs">4,010.000</text>
<text x="1391" y="726.8" textLength="52.5" lengthAdjust="spacingAndGlyphs">4,005.000</text>
<text x="1391" y="758.3" textLength="52.5" lengthAdjust="spacingAndGlyphs">4,000.000</text>
<text x="1391" y="789.8" textLength="52.5" lengthAdjust="spacingAndGlyphs">3,995.000</text>
<text x="1391" y="821.3" textLength="52.5" lengthAdjust="spacingAndGlyphs">3,990.000</text>
</g>
<!-- last price label -->
<rect x="1383" y="95" width="64" height="31" fill="#089981"/>
<text x="1391" y="107.5" font-size="12.5" fill="#fff" stroke="#fff" stroke-width="0.4" textLength="52.5" lengthAdjust="spacingAndGlyphs">4,103.420</text>
<text x="1391" y="120.8" font-size="12.5" fill="rgba(255,255,255,0.8)" textLength="29" lengthAdjust="spacingAndGlyphs">09:43</text>
<!-- volume label -->
<path d="M1383 772H1432.5A2 2 0 0 1 1434.5 774V787A2 2 0 0 1 1432.5 789H1383Z" fill="#26a69a"/>
<text x="1391.5" y="785" font-size="12" font-weight="bold" fill="#fff" textLength="38" lengthAdjust="spacingAndGlyphs">15.91 K</text>

<!-- time axis labels -->
<g font-size="12" fill="#131722" text-anchor="middle" stroke="#131722" stroke-width="0.15">
<text x="31.3" y="856" stroke="#131722" stroke-width="0.5">18</text>
<text x="129.3" y="856">03:00</text>
<text x="194.3" y="856">06:00</text>
<text x="292.3" y="856">09:00</text>
<text x="390.3" y="856">12:00</text>
<text x="488.3" y="856">15:00</text>
<text x="586.3" y="856">18:00</text>
<text x="684.3" y="856">21:00</text>
<text x="782.3" y="856" stroke="#131722" stroke-width="0.5">19</text>
<text x="880.3" y="856">03:00</text>
<text x="945.3" y="856">06:00</text>
<text x="1043.3" y="856">09:00</text>
<text x="1141.3" y="856">12:00</text>
<text x="1239.3" y="856">15:00</text>
<text x="1337.3" y="856">18:00</text>
</g>
<!-- settings hexagon -->
<g transform="translate(1418.5,852.5)" fill="none" stroke="#131722" stroke-width="1.2">
<polygon points="-7,0 -3.5,-6 3.5,-6 7,0 3.5,6 -3.5,6"/>
<circle cx="0" cy="0" r="2"/>
</g>

<!-- bottom toolbar -->
<g font-size="14" fill="#131722" stroke="#131722" stroke-width="0.15">
<text x="10.2" y="891" textLength="16.5" lengthAdjust="spacingAndGlyphs">1D</text>
<text x="38" y="891" textLength="16" lengthAdjust="spacingAndGlyphs">5D</text>
<text x="66.2" y="891" textLength="17.5" lengthAdjust="spacingAndGlyphs">1M</text>
<text x="95" y="891" textLength="17.8" lengthAdjust="spacingAndGlyphs">3M</text>
<text x="124" y="891" textLength="18.2" lengthAdjust="spacingAndGlyphs">6M</text>
<text x="153.5" y="891" textLength="25" lengthAdjust="spacingAndGlyphs">YTD</text>
<text x="189.5" y="891" textLength="16.6" lengthAdjust="spacingAndGlyphs">1Y</text>
<text x="217.5" y="891" textLength="15.6" lengthAdjust="spacingAndGlyphs">5Y</text>
<text x="244.3" y="891" textLength="17" lengthAdjust="spacingAndGlyphs">All</text>
<text x="1309" y="891" textLength="97" lengthAdjust="spacingAndGlyphs">16:50:16 UTC+7</text>
<text x="1420" y="891" textLength="24" lengthAdjust="spacingAndGlyphs">ETH</text>
</g>
<rect x="272" y="876" width="1" height="21" fill="#e0e3eb"/>
<path d="M287.5 884.5V880.5A2 2 0 0 1 289.5 878.5H302.5A2 2 0 0 1 304.5 880.5V891.5A2 2 0 0 1 302.5 893.5H296.5M287.5 882.5H304.5M292.5 876.5V879.5M299.5 876.5V879.5M286.5 890.5H293.5M290.5 887.5L293.5 890.5L290.5 893.5" fill="none" stroke="#131722" stroke-width="1.1" stroke-linecap="round" stroke-linejoin="round"/>

<!-- header -->
<circle cx="14" cy="12" r="9" fill="#d69e00"/>
<g fill="#fff">
<polygon points="11.5,8 16.5,8 17.5,11 10.5,11"/>
<polygon points="7.5,12 12.5,12 13.5,15 6.5,15"/>
<polygon points="15.5,12 20.5,12 21.5,15 14.5,15"/>
</g>
<text x="27" y="18" font-size="16.5" fill="#131722" textLength="243" lengthAdjust="spacingAndGlyphs">CFDs on Gold (US$ / OZ) · 15 · TVC</text>
<path d="M288 3h11v18h-11a9 9 0 0 1 0-18z" fill="#daf1ed"/>
<path d="M299 3h11a9 9 0 0 1 0 18h-11z" fill="#f1a7c2"/>
<circle cx="289.9" cy="11.9" r="4.1" fill="#089981"/>
<path d="M304.4 10.9C305.5 9.3 307 9.3 308 10.2S310.5 11.2 311.6 9.6M304.4 14.9C305.5 13.3 307 13.3 308 14.2S310.5 15.2 311.6 13.6" fill="none" stroke="#dc1462" stroke-width="1.5" stroke-linecap="round"/>
<g font-size="13">
<text x="326" y="17" fill="#131722">O</text><text x="337" y="17" fill="#089981">4,098.430</text>
<text x="400" y="17" fill="#131722">H</text><text x="410" y="17" fill="#089981">4,107.040</text>
<text x="472" y="17" fill="#131722">L</text><text x="481" y="17" fill="#089981">4,098.055</text>
<text x="543" y="17" fill="#131722">C</text><text x="553" y="17" fill="#089981">4,103.420</text>
<text x="617" y="17" fill="#089981" textLength="91" lengthAdjust="spacingAndGlyphs">+5.235 (+0.13%)</text>
</g>
<!-- sell/buy -->
<rect x="4.5" y="28.5" width="79" height="33" rx="6" fill="#fff" stroke="#f23645"/>
<text x="15" y="42" font-size="12" fill="#f23645" stroke="#f23645" stroke-width="0.25" textLength="58" lengthAdjust="spacingAndGlyphs">4,102.747</text>
<text x="32" y="56" font-size="11" fill="#f23645" textLength="23.5" lengthAdjust="spacingAndGlyphs">SELL</text>
<text x="92.5" y="48" font-size="9.8" fill="#131722" stroke="#131722" stroke-width="0.15" textLength="14.8" lengthAdjust="spacingAndGlyphs">156</text>
<rect x="116.5" y="28.5" width="79" height="33" rx="6" fill="#fff" stroke="#2962ff"/>
<text x="127" y="42" font-size="12" fill="#2962ff" stroke="#2962ff" stroke-width="0.25" textLength="58" lengthAdjust="spacingAndGlyphs">4,102.903</text>
<text x="145.5" y="56" font-size="11" fill="#2962ff" textLength="20" lengthAdjust="spacingAndGlyphs">BUY</text>
<!-- vol -->
<text x="5" y="83" font-size="12.5" fill="#131722" stroke="#131722" stroke-width="0.15">Vol</text>
<text x="31" y="83" font-size="12.5" fill="#22ab94" stroke="#22ab94" stroke-width="0.3" textLength="41" lengthAdjust="spacingAndGlyphs">15.91 K</text>
<!-- FBB -->
<text x="5" y="107" font-size="12.5" fill="#b2b5be" textLength="83" lengthAdjust="spacingAndGlyphs">FBB 200 hlc3 3</text>
<g transform="translate(107,101.8)" fill="none">
<ellipse cx="0" cy="0" rx="7.3" ry="5.3" stroke="#131722" stroke-width="1.1"/>
<circle cx="0" cy="0" r="2.7" stroke="#131722" stroke-width="1.1"/>
<path d="M-5.6 5.8L5.6 -5.6" stroke="#fff" stroke-width="3.2"/>
<path d="M-5.6 5.8L5.6 -5.6" stroke="#131722" stroke-width="1.1"/>
</g>
<rect x="4.5" y="117.5" width="28" height="20" rx="3" fill="#fff" stroke="#e0e0e0"/>
<path d="M14.6 129.3L18.5 125.5L22.4 129.3" fill="none" stroke="#131722" stroke-width="1.3"/>

<!-- TradingView logo -->
<g stroke="#fff" stroke-width="4" stroke-linejoin="miter" paint-order="stroke" fill="#111">
<path d="M8 809H20V824H14V815H8Z"/>
<circle cx="24.9" cy="812" r="2.8"/>
<path d="M31.2 809H37.7L32.6 824H25.3Z"/>
<text x="45.3" y="824" font-size="19.5" font-weight="bold" textLength="120.5" lengthAdjust="spacingAndGlyphs" stroke-width="3.5" stroke-linejoin="round">TradingView</text>
</g>
<g fill="#111">
<path d="M8 809H20V824H14V815H8Z"/>
<circle cx="24.9" cy="812" r="2.8"/>
<path d="M31.2 809H37.7L32.6 824H25.3Z"/>
</g>
<!-- lightning -->
<circle cx="1296.45" cy="825.47" r="11.2" fill="#fff"/>
<path d="M1305.45 822.58A9.45 9.45 0 1 1 1299.43 816.5" fill="none" stroke="#9c27b0" stroke-width="1.5"/>
<circle cx="1303.5" cy="818.4" r="2.6" fill="#f23645"/>
<path d="M1299.3 820.2L1292.6 825.9H1297L1293.2 830.8L1300.4 825H1296Z" fill="#9c27b0" stroke="#9c27b0" stroke-width="0.8" stroke-linejoin="round"/>
</svg>
</body></html>
